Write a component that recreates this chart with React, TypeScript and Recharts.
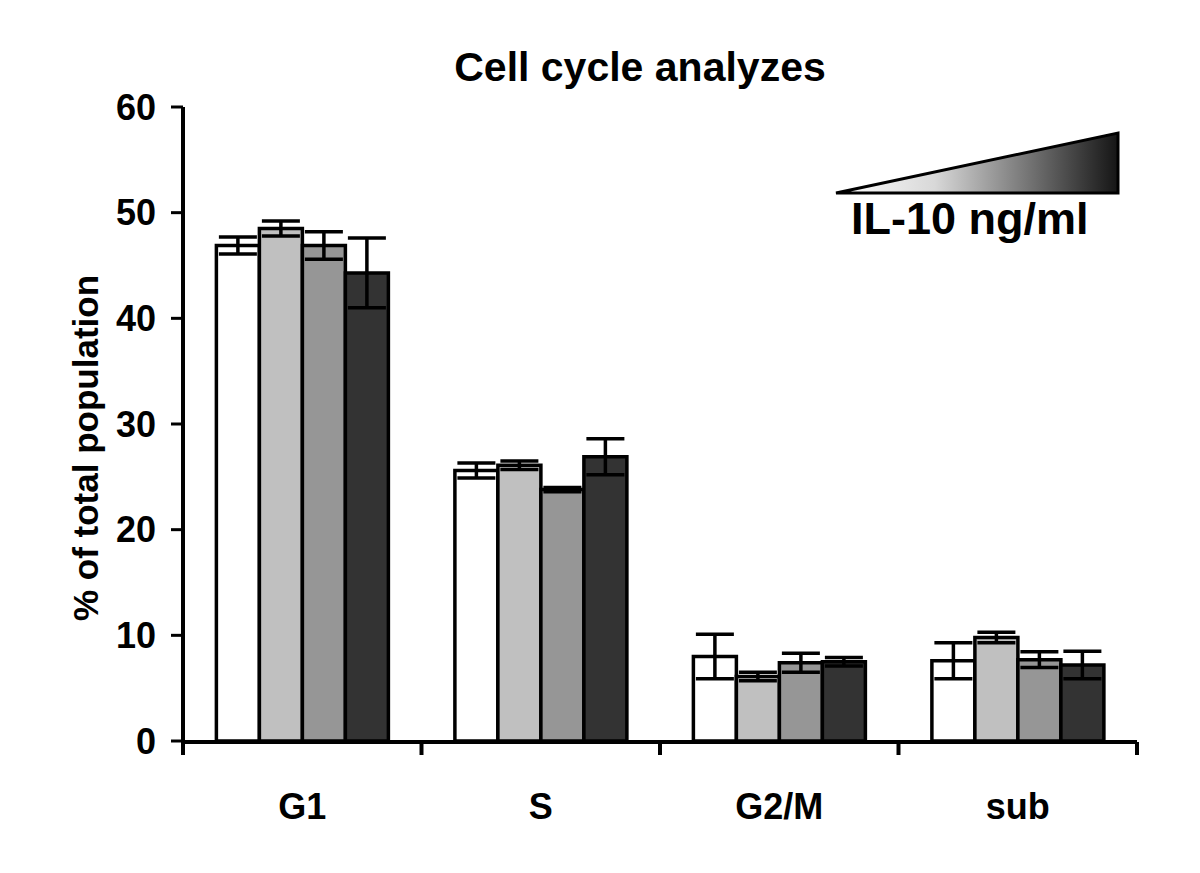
import { Bar, BarChart, ErrorBar, XAxis, YAxis } from "recharts";

const phases = ["G1", "S", "G2/M", "sub"];

// mean % per dose (lowest -> highest IL-10)
const dose0 = [46.9, 25.6, 8.0, 7.6];
const dose1 = [48.5, 26.1, 6.1, 9.8];
const dose2 = [46.9, 23.8, 7.4, 7.7];
const dose3 = [44.3, 26.9, 7.5, 7.2];

// error bars
const err0 = [0.8, 0.7, 2.1, 1.7];
const err1 = [0.7, 0.4, 0.4, 0.5];
const err2 = [1.3, 0.2, 0.9, 0.75];
const err3 = [3.3, 1.7, 0.4, 1.3];

const yTicks = [0, 10, 20, 30, 40, 50, 60];
const edgeTicks = [0, 1, 2, 3, 4];

const fills = ["#ffffff", "#c0c0c0", "#969696", "#333333"];

const FONT = "'Liberation Sans', Arial, Helvetica, sans-serif";

const data = phases.map((name, i) => ({
  name,
  pos: i + 0.5,
  d0: dose0[i],
  d1: dose1[i],
  d2: dose2[i],
  d3: dose3[i],
  e0: err0[i],
  e1: err1[i],
  e2: err2[i],
  e3: err3[i],
}));

const tickStyle = { fill: "#000", fontSize: 36, fontWeight: 700, fontFamily: FONT };

// boundary axis: tick marks only, no labels
const NoLabel = () => <g />;

export default function App() {
  return (
    <div style={{ position: "absolute", left: 0, top: 0, width: 1200, height: 873, background: "#fff" }}>
      <BarChart
        width={1200}
        height={873}
        data={data}
        margin={{ top: 107, right: 63, bottom: 130, left: 0 }}
        barCategoryGap="14%"
        barGap={0}
      >
        <YAxis
          domain={[0, 60]}
          ticks={yTicks}
          width={183}
          tick={tickStyle}
          tickSize={12}
          tickMargin={15}
          axisLine={{ stroke: "#000", strokeWidth: 4 }}
          tickLine={{ stroke: "#000", strokeWidth: 3 }}
        />
        <XAxis
          xAxisId="cat"
          dataKey="name"
          height={1}
          axisLine={false}
          tickLine={false}
          tickSize={0}
          tickMargin={52}
          tick={tickStyle}
        />
        <XAxis
          xAxisId="edge"
          dataKey="pos"
          type="number"
          domain={[0, 4]}
          ticks={edgeTicks}
          interval={0}
          allowDataOverflow
          height={1}
          tick={NoLabel}
          tickSize={13}
          axisLine={{ stroke: "#000", strokeWidth: 4 }}
          tickLine={{ stroke: "#000", strokeWidth: 4 }}
        />
        <Bar xAxisId="cat" dataKey="d0" fill={fills[0]} stroke="#000" strokeWidth={3.5} isAnimationActive={false}>
          <ErrorBar dataKey="e0" width={19} stroke="#000" strokeWidth={3.5} />
        </Bar>
        <Bar xAxisId="cat" dataKey="d1" fill={fills[1]} stroke="#000" strokeWidth={3.5} isAnimationActive={false}>
          <ErrorBar dataKey="e1" width={19} stroke="#000" strokeWidth={3.5} />
        </Bar>
        <Bar xAxisId="cat" dataKey="d2" fill={fills[2]} stroke="#000" strokeWidth={3.5} isAnimationActive={false}>
          <ErrorBar dataKey="e2" width={19} stroke="#000" strokeWidth={3.5} />
        </Bar>
        <Bar xAxisId="cat" dataKey="d3" fill={fills[3]} stroke="#000" strokeWidth={3.5} isAnimationActive={false}>
          <ErrorBar dataKey="e3" width={19} stroke="#000" strokeWidth={3.5} />
        </Bar>
      </BarChart>
      <svg
        width={1200}
        height={873}
        style={{ position: "absolute", left: 0, top: 0, pointerEvents: "none" }}
      >
        <defs>
          <linearGradient id="doseGrad" x1="0" y1="0" x2="1" y2="0">
            <stop offset="0%" stopColor="#ffffff" />
            <stop offset="35%" stopColor="#d8d8d8" />
            <stop offset="100%" stopColor="#151515" />
          </linearGradient>
        </defs>
        <text x={640} y={81} textAnchor="middle" fontFamily={FONT} fontWeight={700} fontSize={41} fill="#000">
          Cell cycle analyzes
        </text>
        <text
          x={85}
          y={448}
          transform="rotate(-90 85 448)"
          textAnchor="middle"
          dominantBaseline="central"
          fontFamily={FONT}
          fontWeight={700}
          fontSize={35}
          fill="#000"
        >
          % of total population
        </text>
        <polygon
          points="836,193 1118,133 1118,193"
          fill="url(#doseGrad)"
          stroke="#000"
          strokeWidth={3}
          strokeLinejoin="miter"
        />
        <text x={851} y={234} fontFamily={FONT} fontWeight={700} fontSize={45} fill="#000">
          IL-10 ng/ml
        </text>
      </svg>
    </div>
  );
}
